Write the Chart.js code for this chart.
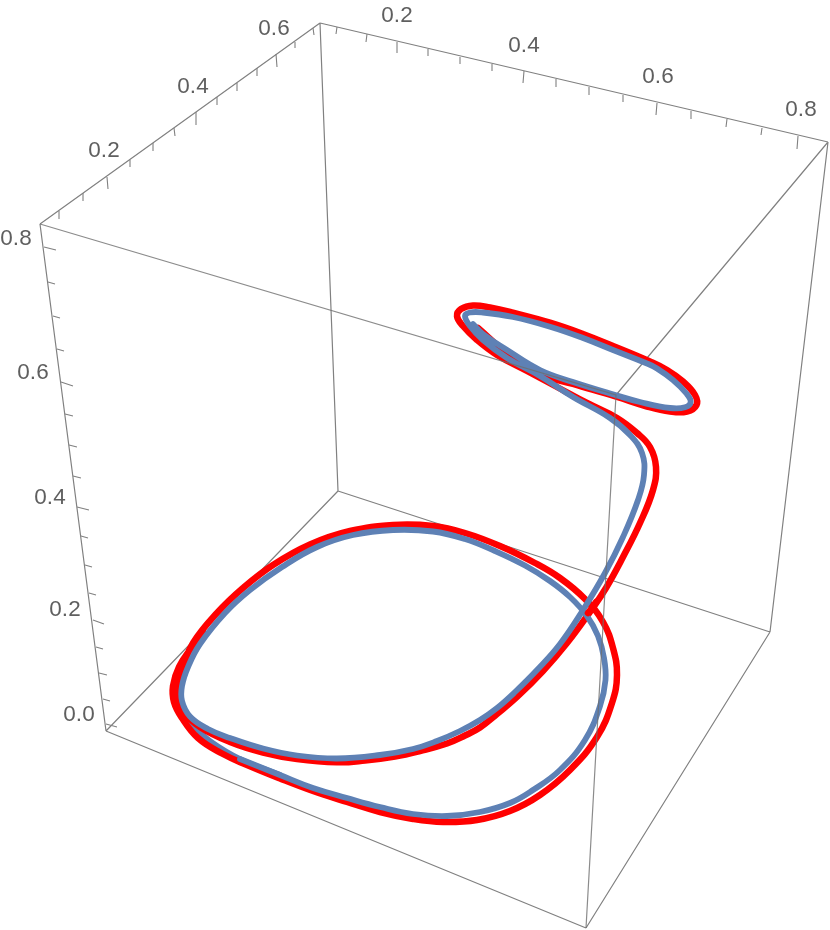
<!DOCTYPE html>
<html>
<head>
<meta charset="utf-8">
<title>Curve</title>
<script src="https://cdn.jsdelivr.net/npm/chart.js@4"></script>
<style>
  html, body { margin: 0; padding: 0; background: #fff; }
  canvas { display: block; }
</style>
</head>
<body>
<canvas id="plot" width="830" height="930"></canvas>
<script>
// values, in projected plane units
const redX = [478, 507, 540, 573, 617, 647, 670, 687, 696.5, 695, 683, 667, 650, 613, 583, 550, 513, 490, 473, 461, 457, 463, 477, 497, 527, 557, 587, 617, 637, 650, 656, 653, 640, 623, 606, 592, 567, 543, 517, 497, 480, 465, 447, 420, 395, 365, 337, 297, 263, 230, 200, 184, 177, 178, 183, 193, 217, 243, 273, 310, 350, 393, 433, 465, 500, 535, 560, 585, 603, 613, 617, 612, 597, 570, 540, 510, 477, 443, 413, 380, 347, 313, 280, 247, 222, 198, 182, 174, 173, 179, 192, 203];
const redY = [328, 353, 374, 384, 397, 406.5, 411.5, 411.5, 405, 395, 381.5, 370, 361.5, 346, 334, 322.7, 312.7, 307.5, 305.5, 309, 316, 326, 340, 355, 371, 387, 403, 418, 433, 447, 467, 490, 523, 557, 588, 609, 643, 671, 697, 714, 727.5, 735.5, 743.5, 751, 756.5, 760.5, 762.3, 759, 752.5, 742, 727, 712, 697, 682, 667, 643, 613, 588, 565, 544.5, 531, 525, 526, 533, 546, 563, 578, 599, 622, 648, 675, 703, 737, 770, 795, 811, 820, 822, 819, 812, 802, 791, 778.5, 765, 753.5, 738, 718, 702, 686, 667, 647, 632];
const redCrossX = [596, 592, 588];
const redCrossY = [602, 608, 613];
const blueX = [473, 483, 507, 540, 573, 617, 640, 670, 685, 690.7, 686, 673, 657, 647, 613, 583, 550, 513, 483, 470, 465, 470, 483, 507, 540, 573, 610, 630, 642, 644, 638, 623, 605, 583, 560, 537, 515, 497, 480, 460, 437, 413, 380, 337, 297, 263, 230, 208, 190, 182, 182, 188, 200, 225, 250, 282, 317, 353, 393, 433, 465, 495, 525, 550, 570, 587, 598, 604, 605.5, 600, 585, 560, 533, 510, 480, 447, 413, 380, 347, 313, 280, 240];
const blueY = [324, 334, 350, 370, 382, 395.5, 402, 408, 407.3, 401.7, 393, 380, 368.5, 363.5, 350, 338, 326.7, 317, 312.5, 312.5, 316, 326, 340, 358, 376, 397, 418, 435, 453, 475, 500, 537, 573, 610, 644, 670, 692, 708, 720, 731, 741, 749, 755, 758.5, 755.5, 748.5, 738, 729, 716.5, 701, 686, 667, 644, 613, 590, 567, 547, 535, 530, 531.5, 539, 551, 565.5, 581, 597, 616, 636, 658, 680, 706, 740, 770, 790, 803, 812, 816, 814, 807, 798, 788, 775, 759];
const blueTailX = [280, 240, 210, 195, 186];
const blueTailY = [775, 759, 741, 727, 712];

const rearEdgeX = [40, 320, null, 320, 828, null, 828, 616, null, 320, 338, null, 40, 106, null, 106, 338, null, 338, 770, null, 106, 586, null, 586, 770, null, 828, 770];
const rearEdgeY = [224, 23, null, 23, 142, null, 142, 395, null, 23, 491, null, 224, 731, null, 731, 491, null, 491, 632, null, 731, 928, null, 928, 632, null, 142, 632];
const frontEdgeX = [40, 616, 586];
const frontEdgeY = [224, 395, 928];

const tickX = [59, 59, null, 83, 83, null, 107, 108, null, 130, 130, null, 153, 153, null, 174, 175, null, 196, 196, null, 217, 217, null, 237, 237, null, 257, 257, null, 276, 277, null, 295, 295, null, 313, 314, null,
  337, 336, null, 367, 366, null, 397, 397, null, 428, 428, null, 460, 460, null, 492, 492, null, 524, 523, null, 556, 556, null, 589, 589, null, 623, 623, null, 657, 656, null, 691, 691, null, 727, 726, null, 762, 761, null, 798, 797, null,
  44, 56, null, 48, 55, null, 53, 60, null, 57, 64, null, 61, 73, null, 65, 73, null, 69, 77, null, 73, 81, null, 77, 89, null, 81, 88, null, 85, 92, null, 89, 96, null, 93, 104, null, 96, 103, null, 99, 107, null, 103, 110, null, 106, 117];
const tickY = [211, 219, null, 193, 201, null, 177, 189, null, 160, 167, null, 143, 151, null, 128, 136, null, 112, 125, null, 97, 105, null, 83, 91, null, 68, 76, null, 54, 67, null, 42, 48, null, 28, 35, null,
  27, 34, null, 34, 42, null, 42, 53, null, 49, 56, null, 57, 64, null, 64, 71, null, 71, 83, null, 79, 87, null, 87, 95, null, 95, 102, null, 103, 115, null, 111, 119, null, 119, 127, null, 128, 135, null, 136, 149, null,
  247, 250, null, 282, 284, null, 316, 318, null, 349, 351, null, 382, 386, null, 414, 416, null, 445, 447, null, 476, 478, null, 507, 510, null, 536, 538, null, 565, 567, null, 593, 595, null, 620, 624, null, 647, 649, null, 673, 675, null, 699, 701, null, 724, 727];

const tickLabels = ["0.2", "0.4", "0.6", "0.2", "0.4", "0.6", "0.8", "0.8", "0.6", "0.4", "0.2", "0.0"];
const labelX = [104, 193, 274, 397, 524, 658, 801, 16, 33, 50, 65, 79];
const labelY = [151, 87, 29, 16, 46, 77, 110, 239, 373, 498, 610, 715];

function toPoints(xs, ys) {
  return xs.map((x, i) => ({ x: x, y: ys[i] }));
}

// mathematica style box labels, placed through the scales
const boxLabels = {
  id: "boxLabels",
  afterDatasetsDraw(chart) {
    const ctx = chart.ctx;
    ctx.save();
    ctx.font = '22.5px "Liberation Sans"';
    ctx.fillStyle = "#5f5f5f";
    ctx.textAlign = "center";
    ctx.textBaseline = "middle";
    tickLabels.forEach((label, i) => {
      ctx.fillText(label, chart.scales.x.getPixelForValue(labelX[i]), chart.scales.y.getPixelForValue(labelY[i]));
    });
    ctx.restore();
  },
};

function curve(label, xs, ys, color, width, order) {
  return { label: label, data: toPoints(xs, ys), showLine: true, borderColor: color, borderWidth: width, pointRadius: 0, tension: 0.42, borderCapStyle: "round", borderJoinStyle: "round", order: order };
}

new Chart(document.getElementById("plot"), {
  type: "scatter",
  data: {
    datasets: [
      { label: "rear edges", data: toPoints(rearEdgeX, rearEdgeY), showLine: true, borderColor: "#808080", borderWidth: 1.2, pointRadius: 0, order: 7 },
      { label: "ticks", data: toPoints(tickX, tickY), showLine: true, borderColor: "#808080", borderWidth: 1.1, pointRadius: 0, order: 7 },
      curve("blue tail", blueTailX, blueTailY, "#5e81b5", 5.8, 6),
      curve("red", redX, redY, "#ff0000", 6.5, 5),
      curve("blue", blueX, blueY, "#5e81b5", 5.8, 4),
      curve("red crossing", redCrossX, redCrossY, "#ff0000", 6.5, 3),
      { label: "front edges", data: toPoints(frontEdgeX, frontEdgeY), showLine: true, borderColor: "rgba(110,110,110,0.8)", borderWidth: 1.2, pointRadius: 0, order: 2 },
    ],
  },
  options: {
    responsive: false,
    animation: false,
    layout: { padding: 0 },
    scales: {
      x: { type: "linear", min: 0, max: 830, display: false },
      y: { type: "linear", min: 0, max: 930, reverse: true, display: false },
    },
    plugins: {
      legend: { display: false },
      tooltip: { enabled: false },
    },
  },
  plugins: [boxLabels],
});
</script>
</body>
</html>
